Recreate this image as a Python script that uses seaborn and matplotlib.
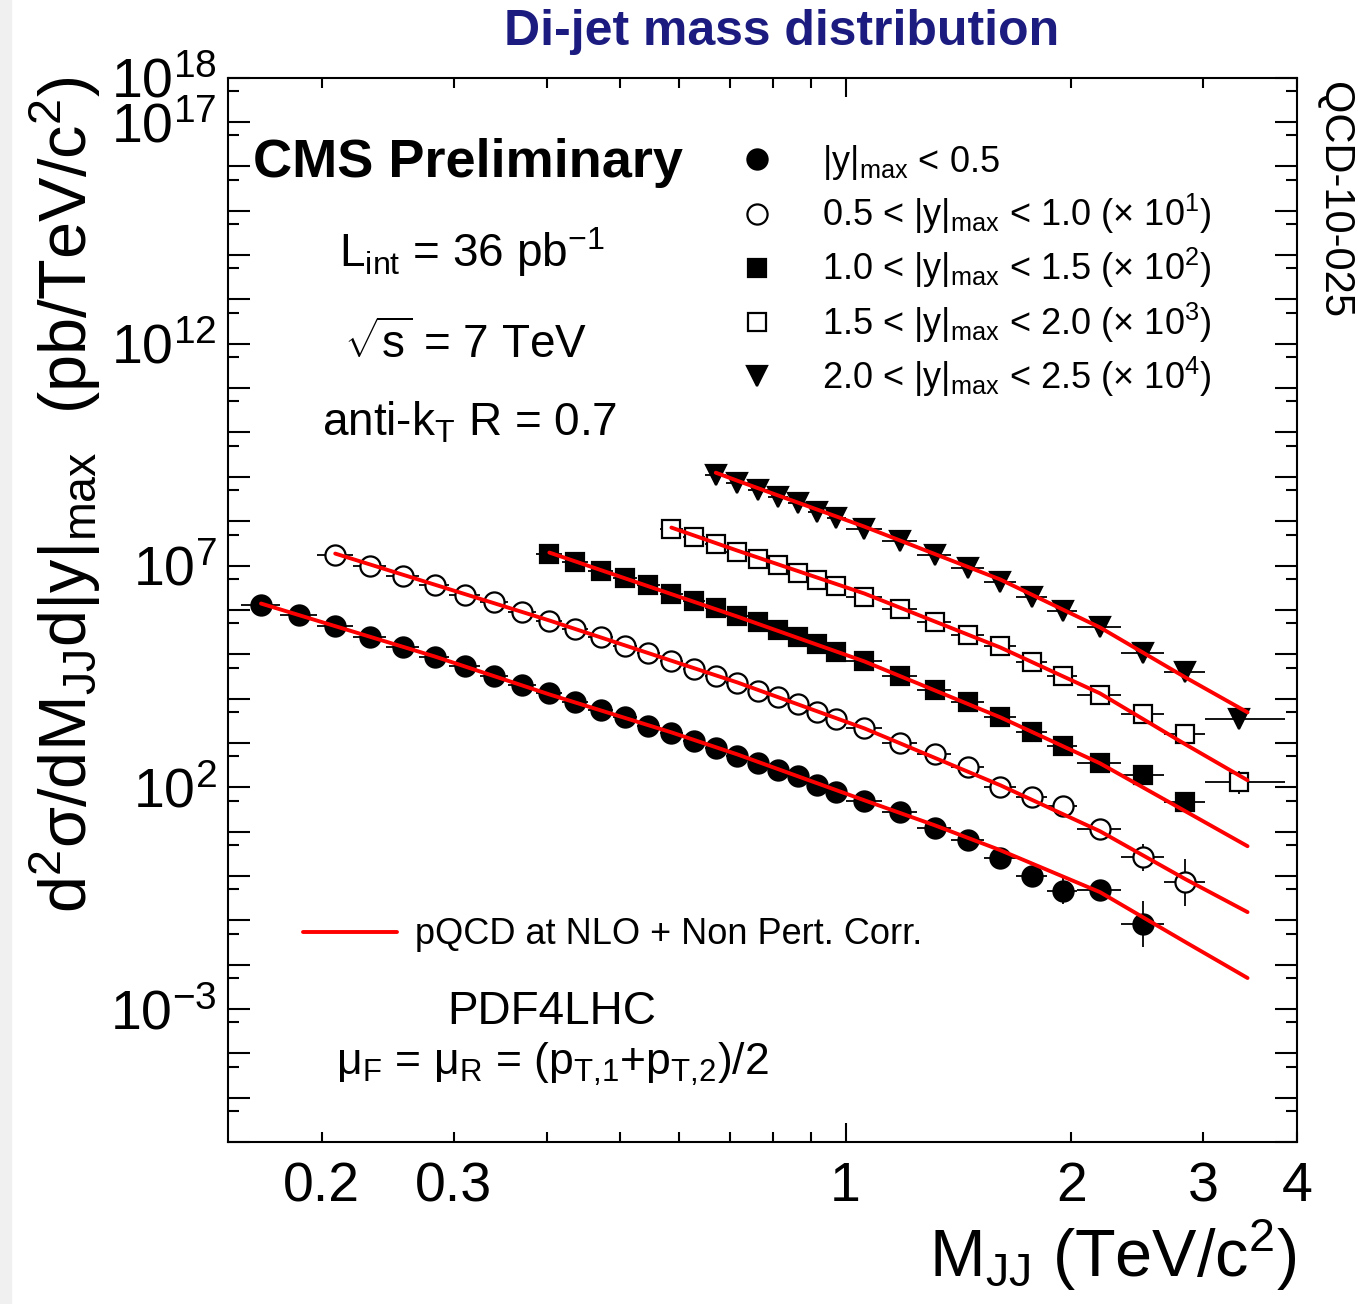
import numpy as np
import pandas as pd
import seaborn as sns
import matplotlib.pyplot as plt
from matplotlib.ticker import FixedLocator, FuncFormatter
from matplotlib.patches import Rectangle

# dijet mass binning (TeV/c^2), shared by all |y|max slices
mass_lo = [0.156, 0.176, 0.197, 0.220, 0.244, 0.270, 0.296, 0.325, 0.354, 0.386,
           0.419, 0.453, 0.489, 0.526, 0.565, 0.606, 0.649, 0.693, 0.740, 0.788,
           0.838, 0.890, 0.944, 1.000, 1.118, 1.246, 1.383, 1.530, 1.687, 1.856,
           2.037, 2.332, 2.659, 3.019]
mass_hi = mass_lo[1:] + [3.854]
mass_x = [0.166, 0.1865, 0.2085, 0.232, 0.257, 0.283, 0.3105, 0.3395, 0.370, 0.4025,
          0.436, 0.471, 0.5075, 0.5455, 0.5855, 0.6275, 0.671, 0.7165, 0.764, 0.813,
          0.864, 0.917, 0.972, 1.059, 1.182, 1.3145, 1.4565, 1.6085, 1.7715, 1.9465,
          2.1845, 2.4955, 2.839, 3.35]

# first mass bin of each |y|max slice
first_bin = [0, 2, 9, 14, 16]

# measured cross sections (pb/TeV/c^2, already scaled by 10^k)
s1_y = [1.32e6, 7.48e5, 4.23e5, 2.39e5, 1.42e5, 8.47e4, 5.31e4, 3.16e4, 1.98e4, 1.31e4,
        8.2e3, 5.42e3, 3.77e3, 2.37e3, 1.64e3, 1.09e3, 755, 499, 347, 242,
        177, 111, 77.1, 48.4, 27.4, 11.9, 6.4, 2.52, 0.99, 0.455, 0.479, 0.082]
s2_y = [1.77e7, 1.0e7, 5.96e6, 3.73e6, 2.22e6, 1.47e6, 8.73e5, 5.48e5, 3.62e5, 2.39e5,
        1.50e5, 1.04e5, 6.89e4, 4.55e4, 3.16e4, 2.20e4, 1.45e4, 1.06e4, 7.40e3, 4.89e3,
        3.40e3, 2.13e3, 980, 553, 282, 100, 59.6, 37.3, 11.3, 2.65, 0.72]
s3_y = [1.86e7, 1.23e7, 7.71e6, 5.37e6, 3.55e6, 2.34e6, 1.55e6, 1.08e6, 7.10e5, 5.20e5,
        3.44e5, 2.39e5, 1.66e5, 1.10e5, 6.89e4, 3.16e4, 1.53e4, 8.20e3, 3.78e3, 1.73e3,
        838, 347, 186, 45.9]
s4_y = [6.81e7, 4.50e7, 3.13e7, 2.01e7, 1.44e7, 1.05e7, 6.95e6, 4.84e6, 3.37e6, 2.00e6,
        1.02e6, 5.20e5, 2.65e5, 1.50e5, 6.53e4, 3.16e4, 1.18e4, 4.41e3, 1.56e3, 130]
s5_y = [1.12e9, 7.40e8, 5.15e8, 3.58e8, 2.62e8, 1.64e8, 1.21e8, 6.81e7, 3.66e7, 1.77e7,
        9.02e6, 4.36e6, 2.00e6, 9.68e5, 4.02e5, 1.04e5, 3.89e4, 3.40e3]

# relative uncertainties
s1_err = [0.03, 0.03, 0.03, 0.03, 0.03, 0.03, 0.03, 0.03, 0.03, 0.03, 0.03, 0.03, 0.03,
          0.04, 0.04, 0.04, 0.04, 0.05, 0.05, 0.05, 0.06, 0.06, 0.07, 0.08, 0.1, 0.12,
          0.15, 0.2, 0.3, 0.95, 0.4, 2.3]
s2_err = [0.03, 0.03, 0.03, 0.03, 0.03, 0.03, 0.03, 0.03, 0.03, 0.03, 0.03, 0.03, 0.03,
          0.04, 0.04, 0.04, 0.04, 0.04, 0.05, 0.05, 0.05, 0.06, 0.07, 0.08, 0.1, 0.15,
          0.2, 0.3, 0.4, 1.0, 2.4]
s3_err = [0.03, 0.03, 0.03, 0.03, 0.03, 0.03, 0.03, 0.03, 0.04, 0.04, 0.04, 0.04, 0.05,
          0.05, 0.06, 0.07, 0.08, 0.1, 0.12, 0.15, 0.2, 0.3, 0.4, 0.5]
s4_err = [0.03, 0.03, 0.03, 0.03, 0.03, 0.04, 0.04, 0.04, 0.04, 0.05, 0.06, 0.07, 0.08,
          0.1, 0.12, 0.15, 0.2, 0.3, 0.4, 0.8]
s5_err = [0.03, 0.03, 0.03, 0.03, 0.04, 0.04, 0.04, 0.05, 0.06, 0.07, 0.08, 0.1, 0.12,
          0.15, 0.2, 0.3, 0.4, 0.4]

# NLO x non-perturbative prediction
th1_x = [0.166, 0.283, 0.4025, 0.5855, 0.7165, 1.059, 1.3145, 1.608, 2.184, 2.839, 3.436]
th1_y = [1.39e6, 8.9e4, 1.24e4, 1.73e3, 553, 50.9, 13.9, 3.81, 0.432, 0.0323, 0.005]
th2_x = [0.2085, 0.4025, 0.7165, 1.059, 1.608, 2.184, 2.839, 3.436]
th2_y = [1.86e7, 5.77e5, 2.32e4, 2.13e3, 111, 10.2, 0.847, 0.153]
th3_x = [0.4025, 0.7165, 1.059, 1.608, 2.184, 2.839, 3.436]
th3_y = [1.96e7, 7.10e5, 6.89e4, 3.78e3, 347, 28.8, 4.69]
th4_x = [0.5855, 0.7165, 1.059, 1.608, 2.184, 2.839, 3.436]
th4_y = [7.18e7, 2.18e7, 2.34e6, 1.42e5, 1.31e4, 929, 144]
th5_x = [0.671, 0.7165, 1.059, 1.608, 2.184, 2.839, 3.436]
th5_y = [1.24e9, 8.21e8, 7.55e7, 4.84e6, 4.02e5, 3.0e4, 4.89e3]

rap_labels = [
    "$\\mathregular{|y|_{max}}$ < 0.5",
    "0.5 < $\\mathregular{|y|_{max}}$ < 1.0 (\u00d7 10$^{\\mathregular{1}}$)",
    "1.0 < $\\mathregular{|y|_{max}}$ < 1.5 (\u00d7 10$^{\\mathregular{2}}$)",
    "1.5 < $\\mathregular{|y|_{max}}$ < 2.0 (\u00d7 10$^{\\mathregular{3}}$)",
    "2.0 < $\\mathregular{|y|_{max}}$ < 2.5 (\u00d7 10$^{\\mathregular{4}}$)",
]
x_labelled = [0.2, 0.3, 2, 3, 4]
y_labelled = [-3, 2, 7, 12, 17, 18]

sns.set_theme(style="ticks")
plt.rcParams["font.family"] = ["Liberation Sans", "DejaVu Sans"]
plt.rcParams["mathtext.fontset"] = "custom"
plt.rcParams["mathtext.rm"] = "Liberation Sans"
plt.rcParams["mathtext.it"] = "Liberation Sans:italic"
plt.rcParams["mathtext.bf"] = "Liberation Sans:bold"
plt.rcParams["text.color"] = "black"
plt.rcParams["axes.labelcolor"] = "black"
plt.rcParams["axes.linewidth"] = 1.5

fig = plt.figure(figsize=(13.58, 13.04), dpi=100)
fig.patches.append(Rectangle((0, 0), 11 / 1358, 1, transform=fig.transFigure,
                             color="#f0f0f0", zorder=0))
ax = fig.add_axes([0.1679, 0.1242, 0.7872, 0.8162])
ax.set_xscale("log")
ax.set_yscale("log")

# theory curves via seaborn
theory = pd.concat([
    pd.DataFrame({"mass": tx, "xsec": ty, "slice": i})
    for i, (tx, ty) in enumerate([(th1_x, th1_y), (th2_x, th2_y), (th3_x, th3_y),
                                  (th4_x, th4_y), (th5_x, th5_y)])
])
sns.lineplot(data=theory, x="mass", y="xsec", units="slice", estimator=None,
             color="#ff0000", linewidth=2.8, sort=False, ax=ax, zorder=5, legend=False)
theory_handle = ax.get_lines()[-1]

# data points
series = [s1_y, s2_y, s3_y, s4_y, s5_y]
errors = [s1_err, s2_err, s3_err, s4_err, s5_err]
markers = ["o", "o", "s", "s", "v"]
faces = ["black", "white", "black", "white", "black"]
msizes = [14.5, 14.5, 13.5, 13.5, 15]
handles = []
for start, yv, rv, mk, fc, ms in zip(first_bin, series, errors, markers, faces, msizes):
    n = len(yv)
    x = np.array(mass_x[start:start + n])
    lo = np.array(mass_lo[start:start + n])
    hi = np.array(mass_hi[start:start + n])
    y = np.array(yv)
    r = np.array(rv)
    eb = ax.errorbar(x, y, xerr=[x - lo, hi - x], yerr=[y * r / (1 + r), y * r],
                     fmt=mk, ms=ms, mfc=fc, mec="black", mew=1.6, ecolor="black",
                     elinewidth=1.3, capsize=0, zorder=3)
    handles.append(eb[0])

ax.set_xlim(0.15, 4)
ax.set_ylim(1e-6, 1e18)
ax.set_xlabel("")
ax.set_ylabel("")

# axis ticks, ROOT style
ax.xaxis.set_major_locator(FixedLocator([1]))
ax.xaxis.set_major_formatter(FuncFormatter(lambda v, p: "1"))
ax.xaxis.set_minor_locator(FixedLocator([0.2, 0.3, 0.4, 0.5, 0.6, 0.7, 0.8, 0.9, 2, 3, 4]))
ax.xaxis.set_minor_formatter(FuncFormatter(
    lambda v, p: (f"{v:g}" if any(abs(v - t) < 1e-9 for t in x_labelled) else "")))
ax.yaxis.set_major_locator(FixedLocator(10.0 ** np.arange(-6, 19)))
ax.yaxis.set_minor_locator(FixedLocator(5 * 10.0 ** np.arange(-6, 18)))
ax.yaxis.set_minor_formatter(FuncFormatter(lambda v, p: ""))
ax.yaxis.set_major_formatter(FuncFormatter(
    lambda v, p: ("$\\mathregular{10^{%d}}$" % round(np.log10(v))
                  if round(np.log10(v)) in y_labelled else "")))
ax.tick_params(which="both", direction="in", top=True, right=True, width=1.5,
               color="black", labelsize=40, labelcolor="black")
ax.tick_params(axis="x", which="both", pad=14)
ax.tick_params(axis="y", which="both", pad=8)
ax.tick_params(axis="x", which="major", length=14)
ax.tick_params(axis="x", which="minor", length=7)
ax.tick_params(axis="y", which="major", length=16)
ax.tick_params(axis="y", which="minor", length=8)
for sp in ax.spines.values():
    sp.set_color("black")
    sp.set_linewidth(1.5)

# legends
leg1 = ax.legend(handles, rap_labels, loc="center left",
                 bbox_to_anchor=(721 / 1358, 1 - 271 / 1304),
                 bbox_transform=fig.transFigure, frameon=False, fontsize=26,
                 handlelength=2.0, handletextpad=0.8, labelspacing=0.28,
                 borderpad=0, borderaxespad=0, numpoints=1)
ax.add_artist(leg1)
ax.legend([theory_handle], ["pQCD at NLO + Non Pert. Corr."], loc="center left",
          bbox_to_anchor=(303 / 1358, 1 - 935 / 1304), bbox_transform=fig.transFigure,
          frameon=False, fontsize=26, handlelength=2.6, handletextpad=0.5,
          borderpad=0, borderaxespad=0)

# annotations
fig.text(0.5758, 0.9755, "Di-jet mass distribution", ha="center", va="center",
         fontsize=36, fontweight="bold", color="#1b1b80")
fig.text(0.1863, 0.8643, "CMS Preliminary", ha="left", va="baseline",
         fontsize=39, fontweight="bold")
fig.text(0.3476, 0.7952, "L$_{\\mathregular{int}}$ = 36 pb$^{\\mathregular{-1}}$",
         ha="center", va="baseline", fontsize=33)
fig.text(0.343, 0.7255, "$\\sqrt{\\mathregular{s}}$ = 7 TeV", ha="center",
         va="baseline", fontsize=33)
fig.text(0.346, 0.6664, "anti-k$_{\\mathregular{T}}$ R = 0.7", ha="center",
         va="baseline", fontsize=33)
fig.text(0.4065, 0.2147, "PDF4LHC", ha="center", va="baseline", fontsize=33)
fig.text(0.4065, 0.1756,
         "\u03bc$_{\\mathregular{F}}$ = \u03bc$_{\\mathregular{R}}$ = "
         "(p$_{\\mathregular{T{,}1}}$+p$_{\\mathregular{T{,}2}}$)/2",
         ha="center", va="baseline", fontsize=32)
fig.text(0.983, 0.8466, "QCD-10-025", rotation=270, ha="center", va="center",
         fontsize=30)
fig.text(0.0479, 0.6204,
         "d$^{\\mathregular{2}}$\u03c3/dM$_{\\mathregular{JJ}}$d|y|$_{\\mathregular{max}}$"
         "  (pb/TeV/c$^{\\mathregular{2}}$)",
         rotation=90, ha="center", va="center", fontsize=48)
fig.text(0.955, 0.0376, "M$_{\\mathregular{JJ}}$ (TeV/c$^{\\mathregular{2}}$)",
         ha="right", va="center", fontsize=48)

fig.savefig("out.png", dpi=100)
